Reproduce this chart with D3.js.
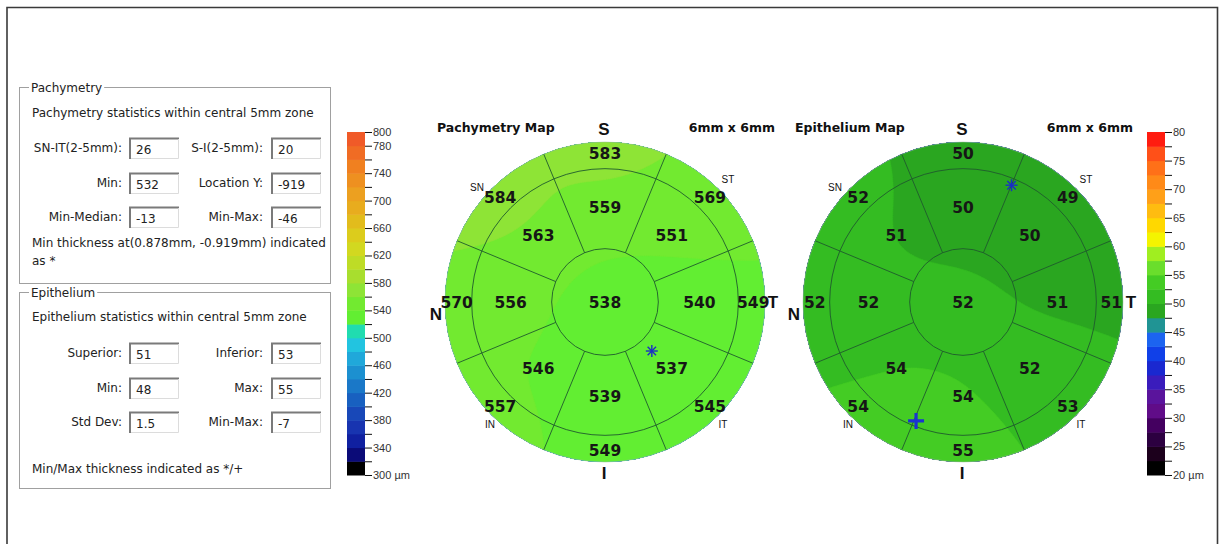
<!DOCTYPE html>
<html><head><meta charset="utf-8">
<script src="https://cdn.jsdelivr.net/npm/d3@7"></script>
<style>
  body { margin: 0; background: #fff; }
  svg { display: block; }
</style>
</head><body>
<svg id="chart" width="1219" height="544"></svg>
<script>
// ---- sector layout (S at top, T to the right, N to the left) ----
const sectorNames  = ["S", "ST", "T", "IT", "I", "IN", "N", "SN"];
const sectorAngles = [90, 45, 0, -45, -90, -135, 180, 135];

// ---- pachymetry values (µm) ----
const pachyCenter = 538;
const pachyInner  = [559, 551, 540, 537, 539, 546, 556, 563];
const pachyOuter  = [583, 569, 549, 545, 549, 557, 570, 584];
const pachyMinLoc = [0.878, -0.919];   // mm

// ---- epithelium values (µm) ----
const epiCenter = 52;
const epiInner  = [50, 50, 51, 52, 54, 54, 52, 51];
const epiOuter  = [50, 49, 51, 53, 55, 54, 52, 52];
const epiMinLoc = [0.91, 2.19];        // mm
const epiMaxLoc = [-0.88, -2.23];      // mm

// ---- statistics panels ----
const pachyStatLabels = ["SN-IT(2-5mm):", "S-I(2-5mm):", "Min:", "Location Y:", "Min-Median:", "Min-Max:"];
const pachyStatValues = ["26", "20", "532", "-919", "-13", "-46"];
const epiStatLabels   = ["Superior:", "Inferior:", "Min:", "Max:", "Std Dev:", "Min-Max:"];
const epiStatValues   = ["51", "53", "48", "55", "1.5", "-7"];

// ---- colour bars ----
const pachyBounds = [300, 320, 340, 360, 380, 400, 420, 440, 460, 480, 500, 520, 540,
                     560, 580, 600, 620, 640, 660, 680, 700, 720, 740, 760, 780, 800];
const pachyColors = ["#000000", "#0b0b78", "#1020a0", "#1834b0", "#1848b8", "#1860c0",
                     "#1a78c8", "#1c90d0", "#20a8da", "#22c4e0", "#20dcb0", "#62ee32",
                     "#72ea30", "#8ee436", "#a8de2e", "#bedc26", "#d2d820", "#dccc1c",
                     "#e2bc1c", "#e8ac1e", "#eca020", "#ee9020", "#f08020", "#f06c24", "#f05a28"];
const pachyLabelValues = [300, 340, 380, 420, 460, 500, 540, 580, 620, 660, 700, 740, 780, 800];

const epiBounds = [20, 22.5, 25, 27.5, 30, 32.5, 35, 37.5, 40, 42.5, 45, 47.5, 50,
                   52.5, 55, 57.5, 60, 62.5, 65, 67.5, 70, 72.5, 75, 77.5, 80];
const epiColors = ["#000000", "#1c001c", "#2c0040", "#440060", "#600c88", "#5a149c",
                   "#3a1cbc", "#1a28d0", "#1040e8", "#1c64f0", "#209494", "#2aa620",
                   "#34bc22", "#44cc24", "#6ade2c", "#a0ee20", "#f4f400", "#ffd800",
                   "#ffbc10", "#ffa018", "#ff8a18", "#ff7018", "#ff5018", "#ff1c10"];
const epiLabelValues = [20, 25, 30, 35, 40, 45, 50, 55, 60, 65, 70, 75, 80];

const svg = d3.select("#chart");
const uiFont = "'DejaVu Sans', Verdana, sans-serif";
const axisFont = "'Liberation Sans', Arial, sans-serif";
const boldFont = "'DejaVu Sans', Verdana, sans-serif";
const uiSize = 12;

// outer frame
svg.append("path")
  .attr("d", "M7,560V7.5H1217.5V560")
  .attr("fill", "none").attr("stroke", "#3a3a3a").attr("stroke-width", 1.6);

// ---------------- statistics panels ----------------
function groupBox(x, y, w, h, title) {
  const g = svg.append("g");
  g.append("rect").attr("x", x + 0.5).attr("y", y + 0.5).attr("width", w).attr("height", h)
    .attr("fill", "none").attr("stroke", "#a0a0a0");
  const bg = g.append("rect").attr("fill", "#fff");
  const t = g.append("text").attr("x", x + 12).attr("y", y + 5)
    .attr("font-family", uiFont).attr("font-size", uiSize).attr("fill", "#222").text(title);
  const bb = t.node().getBBox();
  bg.attr("x", bb.x - 2).attr("y", bb.y).attr("width", bb.width + 4).attr("height", bb.height);
  return g;
}
function text(x, y, s, anchor) {
  return svg.append("text").attr("x", x).attr("y", y).attr("text-anchor", anchor || "start")
    .attr("font-family", uiFont).attr("font-size", uiSize).attr("fill", "#222").text(s);
}
function field(x, y, w, h, v) {
  const g = svg.append("g");
  g.append("rect").attr("x", x).attr("y", y).attr("width", w).attr("height", h).attr("fill", "#fff");
  g.append("path").attr("d", `M${x},${y + h}V${y + 0.5}H${x + w}`)
    .attr("fill", "none").attr("stroke", "#7a7a7a").attr("stroke-width", 2);
  g.append("path").attr("d", `M${x + 1},${y + h - 0.5}H${x + w - 0.5}V${y + 1}`)
    .attr("fill", "none").attr("stroke", "#dcdcdc").attr("stroke-width", 1);
  g.append("text").attr("x", x + 6).attr("y", y + h - 5)
    .attr("font-family", uiFont).attr("font-size", uiSize).attr("fill", "#222").text(v);
}
function statRows(labels, values, rowTops) {
  labels.forEach((lab, i) => {
    const row = Math.floor(i / 2), col = i % 2;
    const top = rowTops[row];
    const lx = col === 0 ? 122 : 263;
    const fx = col === 0 ? 130 : 272;
    text(lx, top + 14, lab, "end");
    field(fx, top, 49, 21, values[i]);
  });
}

groupBox(19, 87, 311, 196, "Pachymetry");
text(32, 117, "Pachymetry statistics within central 5mm zone");
statRows(pachyStatLabels, pachyStatValues, [138, 173, 207]);
text(32, 247, "Min thickness at(0.878mm, -0.919mm) indicated");
text(32, 265, "as *");

groupBox(19, 292, 311, 196, "Epithelium");
text(32, 321, "Epithelium statistics within central 5mm zone");
statRows(epiStatLabels, epiStatValues, [343, 378, 412]);
text(32, 473, "Min/Max thickness indicated as */+");

// ---------------- colour bars ----------------
function colorBar(x, bounds, colors, labelValues, unit) {
  const y = d3.scaleLinear().domain([bounds[0], bounds[bounds.length - 1]]).range([475, 132]);
  const g = svg.append("g");
  colors.forEach((c, i) => {
    g.append("rect").attr("x", x).attr("width", 18)
      .attr("y", y(bounds[i + 1])).attr("height", y(bounds[i]) - y(bounds[i + 1]) + 0.5)
      .attr("fill", c);
  });
  const axis = d3.axisRight(y).tickValues(bounds).tickSize(7).tickFormat(() => "");
  const ag = g.append("g").attr("transform", `translate(${x + 18},0)`).call(axis);
  ag.select(".domain").remove();
  ag.selectAll("line").attr("stroke", "#111");
  labelValues.forEach(v => {
    g.append("text").attr("x", x + 26).attr("y", y(v)).attr("dy", "0.36em")
      .attr("font-family", axisFont).attr("font-size", 11).attr("fill", "#333")
      .text(v === bounds[0] ? `${v} ${unit}` : v);
  });
}
colorBar(347, pachyBounds, pachyColors, pachyLabelValues, "µm");
colorBar(1147, epiBounds, epiColors, epiLabelValues, "µm");

// ---------------- thickness maps ----------------
const R = 160;                 // screen radius of the 6 mm zone
const ppm = R / 3;             // pixels per mm
const innerR = 1.77, outerR = 2.78;   // label radii (mm)

function smoothField(center, inner, outer, n, E) {
  const pts = [[0, 0, center]];
  sectorAngles.forEach((a, i) => {
    const r = a * Math.PI / 180;
    pts.push([innerR * Math.cos(r), innerR * Math.sin(r), inner[i]]);
    pts.push([outerR * Math.cos(r), outerR * Math.sin(r), outer[i]]);
  });
  const s2 = 2 * 0.72 * 0.72;
  const vals = new Float64Array(n * n);
  for (let j = 0; j < n; j++) {
    const ym = E - (j + 0.5) * 2 * E / n;
    for (let i = 0; i < n; i++) {
      const xm = -E + (i + 0.5) * 2 * E / n;
      let ws = 0, vs = 0;
      for (const p of pts) {
        const d2 = (xm - p[0]) ** 2 + (ym - p[1]) ** 2;
        const w = Math.exp(-d2 / s2);
        ws += w; vs += w * p[2];
      }
      vals[j * n + i] = vs / ws;
    }
  }
  return vals;
}

function drawMap(id, cx, cy, title, center, inner, outer, bounds, colors) {
  const g = svg.append("g");
  // each colour band is centred on a scale tick: values within half a step
  // above a tick take the colour of the block just below that tick
  const half = (bounds[1] - bounds[0]) / 2;
  const levels = bounds.slice(0, -1).map((b, i) => ({ t: b + half, c: colors[i] }));
  const n = 160, E = 3.2;
  const vals = smoothField(center, inner, outer, n, E);
  const contours = d3.contours().size([n, n]).thresholds(levels.map(l => l.t))(vals);
  const colorOf = v => levels.find(l => Math.abs(l.t - v) < 1e-9).c;
  const proj = d3.geoTransform({
    point(x, y) { this.stream.point(cx + (x / n * 2 * E - E) * ppm, cy + (y / n * 2 * E - E) * ppm); }
  });
  const path = d3.geoPath(proj);
  svg.append("clipPath").attr("id", id).append("circle").attr("cx", cx).attr("cy", cy).attr("r", R);
  g.append("g").attr("clip-path", `url(#${id})`)
    .selectAll("path").data(contours.filter(c => c.coordinates.length)).join("path")
    .attr("d", path).attr("fill", d => colorOf(d.value)).attr("stroke", d => colorOf(d.value))
    .attr("stroke-width", 0.5);

  // grid: rings at 2 mm, 5 mm, 6 mm and sector spokes
  const gridColor = "#1f5a2e";
  [1, 2.5].forEach(r => g.append("circle").attr("cx", cx).attr("cy", cy).attr("r", r * ppm)
    .attr("fill", "none").attr("stroke", gridColor).attr("stroke-width", 0.9));
  g.append("circle").attr("cx", cx).attr("cy", cy).attr("r", R)
    .attr("fill", "none").attr("stroke", "#9ab89a").attr("stroke-width", 0.5);
  sectorAngles.forEach(a => {
    const r = (a + 22.5) * Math.PI / 180;
    g.append("line")
      .attr("x1", cx + ppm * Math.cos(r)).attr("y1", cy - ppm * Math.sin(r))
      .attr("x2", cx + R * Math.cos(r)).attr("y2", cy - R * Math.sin(r))
      .attr("stroke", gridColor).attr("stroke-width", 0.9);
  });

  // sector values
  const lab = (x, y, v) => g.append("text").attr("x", x).attr("y", y).attr("dy", "0.36em")
    .attr("text-anchor", "middle").attr("font-family", boldFont).attr("font-weight", "bold")
    .attr("font-size", 15.5).attr("fill", "#161616").text(v);
  lab(cx, cy, center);
  sectorAngles.forEach((a, i) => {
    const r = a * Math.PI / 180;
    lab(cx + innerR * ppm * Math.cos(r), cy - innerR * ppm * Math.sin(r), inner[i]);
    lab(cx + outerR * ppm * Math.cos(r), cy - outerR * ppm * Math.sin(r), outer[i]);
  });

  // title and orientation letters
  const bt = (x, y, s, size, anchor) => g.append("text").attr("x", x).attr("y", y)
    .attr("text-anchor", anchor).attr("font-family", boldFont).attr("font-weight", "bold")
    .attr("font-size", size).attr("fill", "#111").text(s);
  bt(cx - 168, 132, title, 12.5, "start");
  bt(cx + 170, 132, "6mm x 6mm", 12.5, "end");
  const big = (x, y, s) => g.append("text").attr("x", x).attr("y", y).attr("text-anchor", "middle")
    .attr("font-family", axisFont).attr("font-weight", "bold").attr("font-size", 17)
    .attr("fill", "#111").text(s);
  big(cx - 1, 135, "S");
  big(cx - 1, 479, "I");
  big(cx - 169, 320, "N");
  big(cx + 168, 308, "T");
  const small = (x, y, s) => g.append("text").attr("x", x).attr("y", y).attr("text-anchor", "middle")
    .attr("font-family", axisFont).attr("font-size", 10).attr("fill", "#111").text(s);
  small(cx - 128, 191, "SN");
  small(cx + 123, 183, "ST");
  small(cx - 115, 428, "IN");
  small(cx + 118, 428, "IT");
  return g;
}

function star(g, x, y) {
  const s = 6;
  [[0, 1], [1, 0], [0.7, 0.7], [0.7, -0.7]].forEach(([dx, dy]) =>
    g.append("line").attr("x1", x - dx * s).attr("y1", y - dy * s)
      .attr("x2", x + dx * s).attr("y2", y + dy * s)
      .attr("stroke", "#1a2fc4").attr("stroke-width", 1.4));
}
function plus(g, x, y) {
  const s = 8;
  g.append("path").attr("d", `M${x - s},${y}H${x + s}M${x},${y - s}V${y + s}`)
    .attr("stroke", "#1a34d0").attr("stroke-width", 3.2).attr("fill", "none");
}

const pcx = 605, epx = 963, mcy = 302;
const pg = drawMap("clipPachy", pcx, mcy, "Pachymetry Map", pachyCenter, pachyInner, pachyOuter, pachyBounds, pachyColors);
star(pg, pcx + pachyMinLoc[0] * ppm, mcy - pachyMinLoc[1] * ppm);
const eg = drawMap("clipEpi", epx, mcy, "Epithelium Map", epiCenter, epiInner, epiOuter, epiBounds, epiColors);
star(eg, epx + epiMinLoc[0] * ppm, mcy - epiMinLoc[1] * ppm);
plus(eg, epx + epiMaxLoc[0] * ppm, mcy - epiMaxLoc[1] * ppm);
</script>
</body></html>
